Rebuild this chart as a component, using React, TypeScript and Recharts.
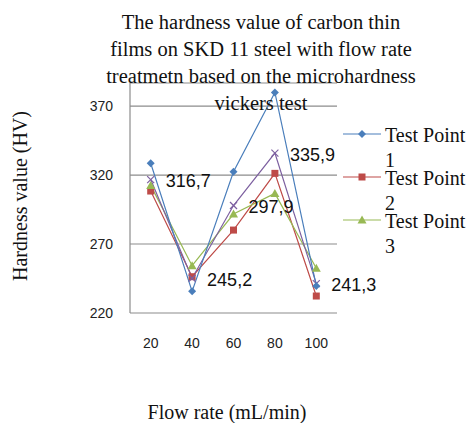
import React from 'react';
import { LineChart, Line, XAxis, YAxis, CartesianGrid, LabelList } from 'recharts';

const flowRates = ['20', '40', '60', '80', '100'];
const testPoint1 = [328.5, 235.7, 322.4, 379.9, 239.6];
const testPoint2 = [308.4, 246.3, 280.1, 321.2, 232.3];
const testPoint3 = [312.5, 254.3, 291.7, 306.7, 252.4];
const average = [316.7, 245.2, 297.9, 335.9, 241.3];
const yTicks = [220, 270, 320, 370];
const titleLines = [
  'The hardness value of carbon thin',
  'films on SKD 11 steel with flow rate',
  'treatmetn based on the microhardness',
  'vickers test',
];

const data = flowRates.map((f, i) => ({
  flow: f,
  tp1: testPoint1[i],
  tp2: testPoint2[i],
  tp3: testPoint3[i],
  avg: average[i],
}));

const C1 = '#4A7EBB';
const C2 = '#BE4B48';
const C3 = '#98B954';
const C4 = '#7D60A0';
const SERIF = 'Liberation Serif, Times New Roman, serif';
const SANS = 'Liberation Sans, Arial, sans-serif';

const Diamond = (p: any) => {
  const { cx, cy } = p;
  if (cx == null || cy == null) return null;
  return <polygon key={p.index} points={`${cx},${cy - 4} ${cx + 4},${cy} ${cx},${cy + 4} ${cx - 4},${cy}`} fill={C1} />;
};
const Square = (p: any) => {
  const { cx, cy } = p;
  if (cx == null || cy == null) return null;
  return <rect key={p.index} x={cx - 3.5} y={cy - 3.5} width={7} height={7} fill={C2} />;
};
const Triangle = (p: any) => {
  const { cx, cy } = p;
  if (cx == null || cy == null) return null;
  return <polygon key={p.index} points={`${cx},${cy - 4.5} ${cx + 4.5},${cy + 3.5} ${cx - 4.5},${cy + 3.5}`} fill={C3} />;
};
const XMark = (p: any) => {
  const { cx, cy } = p;
  if (cx == null || cy == null) return null;
  return (
    <g key={p.index}>
      <line x1={cx - 3.5} y1={cy - 3.5} x2={cx + 3.5} y2={cy + 3.5} stroke={C4} strokeWidth={1.2} />
      <line x1={cx - 3.5} y1={cy + 3.5} x2={cx + 3.5} y2={cy - 3.5} stroke={C4} strokeWidth={1.2} />
    </g>
  );
};

const AvgLabel = (p: any) => {
  const { x, y, value } = p;
  return (
    <text x={x + 15} y={y + 3} dominantBaseline="middle" fontSize={18} fontFamily={SANS} fill="#111">
      {String(value).replace('.', ',')}
    </text>
  );
};

const legendItems = [
  { name: 'Test Point', num: '1', color: C1, marker: 'diamond' },
  { name: 'Test Point', num: '2', color: C2, marker: 'square' },
  { name: 'Test Point', num: '3', color: C3, marker: 'triangle' },
];

export default function App() {
  return (
    <div style={{ position: 'absolute', left: 0, top: 0, width: 468, height: 423, background: '#fff', overflow: 'hidden' }}>
      <LineChart width={468} height={423} data={data} margin={{ top: 83, right: 131, bottom: 80, left: 90 }}>
        <CartesianGrid horizontal vertical={false} stroke="#8c8c8c" strokeWidth={1.2} />
        <XAxis
          dataKey="flow"
          height={30}
          padding={{ left: 20.7, right: 20.7 }}
          axisLine={false}
          tickLine={false}
          tickSize={0}
          tickMargin={25}
          tick={{ fontSize: 14, fill: '#222', fontFamily: SANS }}
          interval={0}
        />
        <YAxis
          width={40}
          domain={[220, 386.7]}
          ticks={yTicks}
          allowDataOverflow
          axisLine={{ stroke: '#8c8c8c', strokeWidth: 1.2 }}
          tickLine={false}
          tickSize={0}
          tickMargin={17}
          tick={{ fontSize: 14, fill: '#222', fontFamily: SANS }}
        />
        <Line dataKey="tp2" name="Test Point 2" stroke={C2} strokeWidth={1.2} dot={Square} activeDot={false} isAnimationActive={false} />
        <Line dataKey="tp3" name="Test Point 3" stroke={C3} strokeWidth={1.2} dot={Triangle} activeDot={false} isAnimationActive={false} />
        <Line dataKey="avg" name="Average" stroke={C4} strokeWidth={1.2} dot={XMark} activeDot={false} isAnimationActive={false}>
          <LabelList dataKey="avg" content={AvgLabel} />
        </Line>
        <Line dataKey="tp1" name="Test Point 1" stroke={C1} strokeWidth={1.2} dot={Diamond} activeDot={false} isAnimationActive={false} />
      </LineChart>
      <svg width={468} height={423} style={{ position: 'absolute', left: 0, top: 0, pointerEvents: 'none' }}>
        {titleLines.map((t, i) => (
          <text key={i} x={261} y={22 + i * 27} textAnchor="middle" dominantBaseline="central" fontSize={20.5} fontFamily={SERIF} fill="#111">
            {t}
          </text>
        ))}
        <text x={20} y={196} transform="rotate(-90 20 196)" textAnchor="middle" dominantBaseline="central" fontSize={20} fontFamily={SERIF} fill="#111">
          Hardness value (HV)
        </text>
        <text x={227} y={412} textAnchor="middle" dominantBaseline="central" fontSize={20} fontFamily={SERIF} fill="#111">
          Flow rate (mL/min)
        </text>
        {legendItems.map((it, i) => {
          const y = 134 + i * 43;
          const mx = 362;
          return (
            <g key={i}>
              <line x1={343} y1={y} x2={381} y2={y} stroke={it.color} strokeWidth={1.2} />
              {it.marker === 'diamond' && <polygon points={`${mx},${y - 4} ${mx + 4},${y} ${mx},${y + 4} ${mx - 4},${y}`} fill={it.color} />}
              {it.marker === 'square' && <rect x={mx - 3.5} y={y - 3.5} width={7} height={7} fill={it.color} />}
              {it.marker === 'triangle' && <polygon points={`${mx},${y - 4.5} ${mx + 4.5},${y + 3.5} ${mx - 4.5},${y + 3.5}`} fill={it.color} />}
              <text x={385} y={y + 8} fontSize={20} fontFamily={SERIF} fill="#111">{it.name}</text>
              <text x={385} y={y + 33} fontSize={20} fontFamily={SERIF} fill="#111">{it.num}</text>
            </g>
          );
        })}
      </svg>
    </div>
  );
}
